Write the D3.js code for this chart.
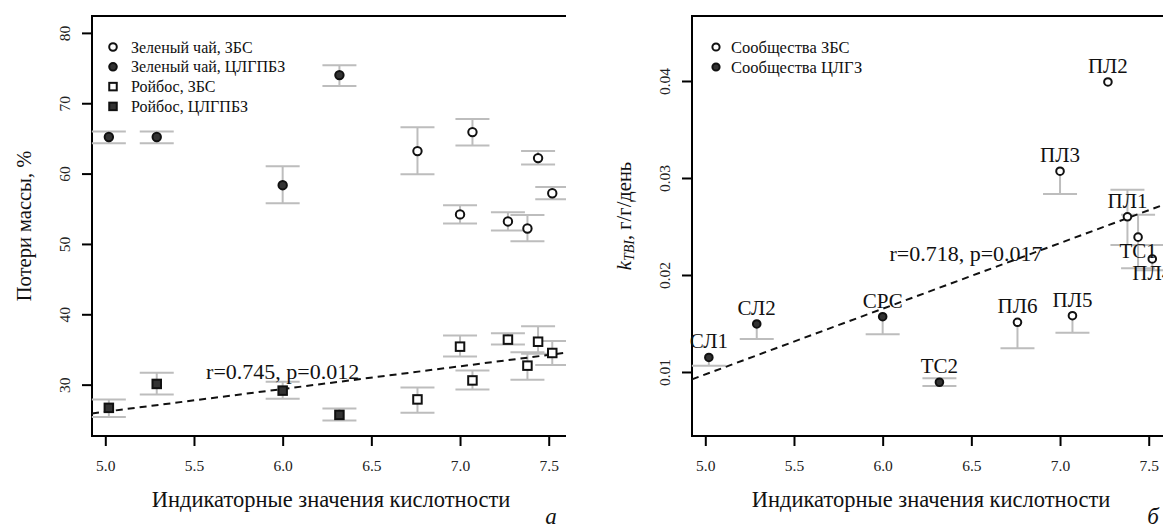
<!DOCTYPE html>
<html>
<head>
<meta charset="utf-8">
<script src="https://cdn.jsdelivr.net/npm/d3@7"></script>
<style>
  body { margin: 0; background: #fff; }
  svg { display: block; font-family: "Liberation Serif", "Times New Roman", serif; }
</style>
</head>
<body>
<svg id="chart" width="1163" height="528"></svg>
<script>
// Sites: acidity indicator values, names and which reserve they belong to
const phValues  = [5.02, 5.29, 6.0, 6.32, 6.76, 7.0, 7.07, 7.27, 7.38, 7.44, 7.52];
const siteNames = ["СЛ1", "СЛ2", "СРС", "ТС2", "ПЛ6", "ПЛ3", "ПЛ5", "ПЛ2", "ПЛ1", "ТС1", "ПЛ4"];
const siteGroup = ["ЦЛГПБЗ", "ЦЛГПБЗ", "ЦЛГПБЗ", "ЦЛГПБЗ", "ЗБС", "ЗБС", "ЗБС", "ЗБС", "ЗБС", "ЗБС", "ЗБС"];

// Panel a: mass loss, %
const greenTea     = [65.2, 65.2, 58.35, 74.0, 63.2, 54.2, 65.9, 53.2, 52.2, 62.2, 57.2];
const greenTeaLow  = [64.3, 64.3, 55.8, 72.45, 59.9, 52.9, 64.0, 51.9, 50.4, 61.3, 56.35];
const greenTeaHigh = [66.0, 66.0, 61.05, 75.4, 66.6, 55.5, 67.75, 54.5, 54.1, 63.2, 58.1];
const rooibos      = [26.7, 30.1, 29.15, 25.7, 27.9, 35.4, 30.6, 36.4, 32.7, 36.1, 34.5];
const rooibosLow   = [25.4, 28.6, 28.0, 24.9, 26.0, 34.0, 29.3, 35.7, 30.7, 34.4, 32.8];
const rooibosHigh  = [27.9, 31.7, 30.4, 26.6, 29.6, 37.0, 32.0, 37.3, 34.6, 38.3, 36.2];
const rooibosFit   = { intercept: 10.0, slope: 3.23, label: "r=0.745, p=0.012", at: [6.0, 31.8] };

// Panel б: decomposition rate k (TBI), г/г/день
const kRate = [0.0115, 0.01495, 0.0157, 0.00894, 0.01512, 0.0307, 0.0158, 0.0399, 0.0260, 0.0239, 0.02165];
const kLow  = [0.01065, 0.0134, 0.0139, 0.00856, 0.01244, 0.02835, 0.01405, null, 0.0231, 0.0207, 0.0205];
const kHigh = [null, null, null, 0.00935, null, null, null, null, 0.0288, 0.0262, 0.0231];
const kLabelBelow = ["ТС1", "ПЛ4"];
const kFit = { intercept: -0.0241, slope: 0.00677, label: "r=0.718, p=0.017", at: [6.47, 0.0222] };

const xTicks = [5.0, 5.5, 6.0, 6.5, 7.0, 7.5];
const xTitle = "Индикаторные значения кислотности";

const legendA = ["Зеленый чай, ЗБС", "Зеленый чай, ЦЛГПБЗ", "Ройбос, ЗБС", "Ройбос, ЦЛГПБЗ"];
const legendB = ["Сообщества ЗБС", "Сообщества ЦЛГЗ"];

// layout
const plotW = 478, plotH = 420, plotTop = 16;
const capHalf = 17;
const errColor = "#bdbdbd";
const darkFill = "#333";

const svg = d3.select("#chart");
svg.append("defs").append("clipPath").attr("id", "clipA")
  .append("rect").attr("x", -100).attr("y", -20).attr("width", 574).attr("height", 560);

const x = d3.scaleLinear().domain([4.925, 7.62]).range([0, plotW]);

function makePanel(left, yScale, yTicks, yFmt, clip) {
  const g = svg.append("g").attr("transform", `translate(${left},${plotTop})`);
  if (clip) g.attr("clip-path", "url(#clipA)");

  // y axis with vertical tick labels like base R
  const ya = g.append("g").call(d3.axisLeft(yScale).tickValues(yTicks).tickFormat(yFmt).tickSize(10).tickSizeOuter(0));
  ya.select(".domain").remove();
  ya.selectAll("line").attr("stroke", "#000").attr("stroke-width", 2);
  ya.selectAll("text")
    .attr("transform", "rotate(-90)")
    .attr("x", 0).attr("y", -28).attr("dy", 0)
    .attr("text-anchor", "middle")
    .attr("dominant-baseline", "central")
    .style("font-size", "15.5px").style("font-family", "Liberation Serif, serif").attr("fill", "#222");

  const xa = g.append("g").attr("transform", `translate(0,${plotH})`)
    .call(d3.axisBottom(x).tickValues(xTicks).tickFormat(d3.format(".1f")).tickSize(10).tickSizeOuter(0));
  xa.select(".domain").remove();
  xa.selectAll("line").attr("stroke", "#000").attr("stroke-width", 2);
  xa.selectAll("text").attr("y", 29).attr("dy", 0).attr("dominant-baseline", "central")
    .style("font-size", "15.5px").style("font-family", "Liberation Serif, serif").attr("fill", "#222");

  g.append("rect").attr("x", 0).attr("y", 0).attr("width", plotW).attr("height", plotH)
    .attr("fill", "none").attr("stroke", "#000").attr("stroke-width", 2);

  g.append("text").attr("x", plotW / 2).attr("y", 483)
    .attr("text-anchor", "middle").attr("dominant-baseline", "central")
    .style("font-size", "22.5px").attr("fill", "#111").text(xTitle);
  return g;
}

function errorBars(g, yScale, vals, lows, highs) {
  vals.forEach((v, i) => {
    const cx = x(phValues[i]);
    const lo = lows[i], hi = highs[i];
    const y0 = lo == null ? yScale(v) : yScale(lo);
    const y1 = hi == null ? yScale(v) : yScale(hi);
    g.append("line").attr("x1", cx).attr("x2", cx).attr("y1", y0).attr("y2", y1)
      .attr("stroke", errColor).attr("stroke-width", 2);
    [lo, hi].forEach(e => {
      if (e == null) return;
      g.append("line").attr("x1", cx - capHalf).attr("x2", cx + capHalf)
        .attr("y1", yScale(e)).attr("y2", yScale(e))
        .attr("stroke", errColor).attr("stroke-width", 2);
    });
  });
}

function fitLine(g, yScale, fit) {
  const xs = x.domain();
  g.append("line")
    .attr("x1", x(xs[0])).attr("y1", yScale(fit.intercept + fit.slope * xs[0]))
    .attr("x2", x(xs[1])).attr("y2", yScale(fit.intercept + fit.slope * xs[1]))
    .attr("stroke", "#111").attr("stroke-width", 2).attr("stroke-dasharray", "7,5");
  g.append("text").attr("x", x(fit.at[0])).attr("y", yScale(fit.at[1]))
    .attr("text-anchor", "middle").attr("dominant-baseline", "central")
    .style("font-size", "22px").attr("fill", "#111").text(fit.label);
}

function circle(g, cx, cy, filled, r) {
  g.append("circle").attr("cx", cx).attr("cy", cy).attr("r", r)
    .attr("fill", filled ? darkFill : "#fff").attr("stroke", "#111").attr("stroke-width", 2);
}
function square(g, cx, cy, filled, s) {
  g.append("rect").attr("x", cx - s / 2).attr("y", cy - s / 2).attr("width", s).attr("height", s)
    .attr("fill", filled ? darkFill : "#fff").attr("stroke", "#111").attr("stroke-width", 2);
}

// ---- panel a ----
const yA = d3.scaleLinear().domain([22.7, 82.4]).range([plotH, 0]);
const gA = makePanel(92, yA, [30, 40, 50, 60, 70, 80], d3.format("d"), true);

errorBars(gA, yA, greenTea, greenTeaLow, greenTeaHigh);
errorBars(gA, yA, rooibos, rooibosLow, rooibosHigh);
fitLine(gA, yA, rooibosFit);
greenTea.forEach((v, i) => circle(gA, x(phValues[i]), yA(v), siteGroup[i] === "ЦЛГПБЗ", 4.2));
rooibos.forEach((v, i) => square(gA, x(phValues[i]), yA(v), siteGroup[i] === "ЦЛГПБЗ", 8.5));

legendA.forEach((t, i) => {
  const ly = 31 + i * 19.8;
  if (i < 2) circle(gA, 21, ly, i === 1, 3.8);
  else square(gA, 21, ly, i === 3, 7.5);
  gA.append("text").attr("x", 39).attr("y", ly).attr("dominant-baseline", "central")
    .style("font-size", "16px").attr("fill", "#111").text(t);
});

gA.append("text").attr("transform", `translate(-68,${plotH / 2}) rotate(-90)`)
  .attr("text-anchor", "middle").attr("dominant-baseline", "central")
  .style("font-size", "20.5px").attr("fill", "#111").text("Потери массы, %");

svg.append("text").attr("x", 551).attr("y", 524).attr("text-anchor", "middle")
  .style("font-size", "23px").style("font-style", "italic").attr("fill", "#111").text("а");

// ---- panel б ----
const yB = d3.scaleLinear().domain([0.0034, 0.0467]).range([plotH, 0]);
const gB = makePanel(692, yB, [0.01, 0.02, 0.03, 0.04], d3.format(".2f"), false);

errorBars(gB, yB, kRate, kLow, kHigh);
fitLine(gB, yB, kFit);
kRate.forEach((v, i) => circle(gB, x(phValues[i]), yB(v), siteGroup[i] === "ЦЛГПБЗ", 3.8));
kRate.forEach((v, i) => {
  const below = kLabelBelow.includes(siteNames[i]);
  gB.append("text").attr("x", x(phValues[i])).attr("y", yB(v) + (below ? 14 : -16))
    .attr("text-anchor", "middle").attr("dominant-baseline", "central")
    .style("font-size", "21px").attr("fill", "#111").text(siteNames[i]);
});

legendB.forEach((t, i) => {
  const ly = 31 + i * 20;
  circle(gB, 24, ly, i === 1, 3.6);
  gB.append("text").attr("x", 39).attr("y", ly).attr("dominant-baseline", "central")
    .style("font-size", "16.5px").attr("fill", "#111").text(t);
});

const yTitleB = gB.append("text").attr("transform", `translate(-68,${plotH / 2 - 10}) rotate(-90)`)
  .attr("text-anchor", "middle").attr("dominant-baseline", "central")
  .style("font-size", "20.5px").attr("fill", "#111");
yTitleB.append("tspan").style("font-style", "italic").text("k");
yTitleB.append("tspan").style("font-style", "italic").style("font-size", "14px").attr("dy", 5).text("TBI");
yTitleB.append("tspan").attr("dy", -5).text(", г/г/день");

svg.append("text").attr("x", 1153).attr("y", 524).attr("text-anchor", "middle")
  .style("font-size", "23px").style("font-style", "italic").attr("fill", "#111").text("б");
</script>
</body>
</html>
